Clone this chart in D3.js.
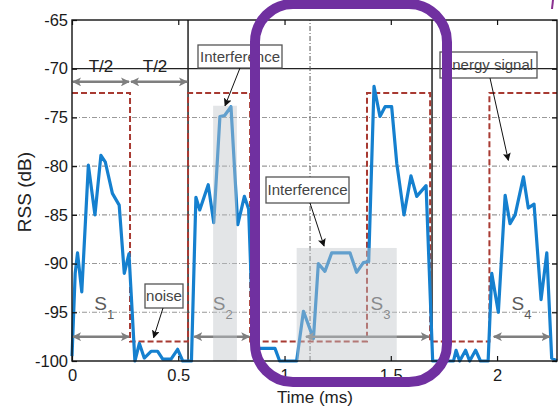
<!DOCTYPE html>
<html>
<head>
<meta charset="utf-8">
<script src="https://cdn.jsdelivr.net/npm/d3@7"></script>
<style>
  html, body { margin: 0; padding: 0; background: #fff; }
  svg { display: block; font-family: "Liberation Sans", Arial, Helvetica, sans-serif; }
</style>
</head>
<body>
<svg id="chart" width="559" height="407"></svg>
<script>
// Received signal strength trace (time in ms, RSS in dB)
const timeMs = [
  0.000, 0.015, 0.026, 0.046, 0.077, 0.108, 0.136, 0.157, 0.190, 0.222, 0.246, 0.268,
  0.296, 0.317, 0.340, 0.372, 0.403, 0.427, 0.466, 0.497, 0.521, 0.552,
  0.562, 0.583, 0.601, 0.641, 0.667, 0.696, 0.718, 0.748, 0.780, 0.811, 0.831, 0.840, 0.852,
  0.955, 0.977, 1.057, 1.089, 1.136, 1.159, 1.190, 1.222, 1.308, 1.339, 1.371, 1.396,
  1.421, 1.449, 1.473, 1.504, 1.528, 1.562, 1.595, 1.622, 1.666, 1.697,
  1.795, 1.807, 1.824, 1.852, 1.871, 1.899, 1.922, 1.958,
  1.975, 2.006, 2.038, 2.061, 2.085, 2.124, 2.147, 2.174, 2.207, 2.234, 2.257, 2.282
];
const rssDb = [
  -99.5, -91.0, -88.9, -92.9, -79.9, -85.0, -78.9, -79.6, -82.8, -84.0, -91.0, -89.0,
  -100, -98.2, -99.7, -99.0, -99.0, -99.8, -99.8, -98.8, -100, -100,
  -100, -83.2, -84.5, -81.9, -85.8, -74.9, -74.8, -73.9, -86.0, -83.1, -84.4, -90.0, -98.7,
  -98.7, -100, -100, -94.9, -97.7, -90.0, -90.8, -88.9, -88.9, -90.9, -89.9, -89.8,
  -71.8, -74.9, -73.9, -73.9, -79.7, -85.0, -81.0, -83.1, -82.0, -100,
  -100, -98.9, -100, -98.9, -100, -98.9, -100, -100,
  -91.0, -95.0, -83.0, -85.9, -85.0, -81.1, -84.3, -83.9, -93.7, -88.9, -99.7, -100
];

// On/off energy window (square wave): edges in ms and level of each interval
const windowEdges = [0, 0.273, 0.546, 0.838, 1.388, 1.685, 1.964, 2.282];
const windowLevels = [-72.5, -98, -72.5, -98, -72.5, -98, -72.5];

// Slot boundaries
const slotBoundaries = [0.546, 1.694];
const slotMarker = [1.12];

// Interference spans
const interfStart = [0.664, 1.057];
const interfEnd = [0.776, 1.528];
const interfTop = [-73.8, -88.4];

// Sensing spans S1..S4
const senseNames = ["1", "2", "3", "4"];
const senseStart = [0, 0.570, 1.096, 1.980];
const senseEnd = [0.273, 0.839, 1.684, 2.252];

// Half-period spans
const halfStart = [0, 0.273];
const halfEnd = [0.273, 0.546];

// Axis ticks
const xTicks = [0, 0.5, 1, 1.5, 2];
const yTicks = [-100, -95, -90, -85, -80, -75, -70, -65];
const gridDb = [-95, -90, -85, -80, -75];

const svg = d3.select("#chart");
const x = d3.scaleLinear().domain([0, 2.282]).range([72, 557]);
const y = d3.scaleLinear().domain([-100, -65]).range([361, 20]);

const defs = svg.append("defs");
defs.append("marker").attr("id", "grayHead")
  .attr("viewBox", "0 0 10 10").attr("refX", 9).attr("refY", 5)
  .attr("markerWidth", 9).attr("markerHeight", 9)
  .attr("markerUnits", "userSpaceOnUse").attr("orient", "auto-start-reverse")
  .append("path").attr("d", "M0,0 L10,5 L0,10 L2.5,5 z").attr("fill", "#7f7f7f");
defs.append("marker").attr("id", "blackHead")
  .attr("viewBox", "0 0 10 10").attr("refX", 9).attr("refY", 5)
  .attr("markerWidth", 8).attr("markerHeight", 8)
  .attr("markerUnits", "userSpaceOnUse").attr("orient", "auto")
  .append("path").attr("d", "M0,0 L10,5 L0,10 L2,5 z").attr("fill", "#111");

// Grid
svg.append("g").selectAll("line").data(gridDb).join("line")
  .attr("x1", x(0)).attr("x2", x(2.282))
  .attr("y1", d => y(d)).attr("y2", d => y(d))
  .attr("stroke", "#999").attr("stroke-width", 1.1)
  .attr("stroke-dasharray", "5,2,1,2");

// -70 dB reference line
svg.append("line")
  .attr("x1", x(0)).attr("x2", x(2.282)).attr("y1", y(-70)).attr("y2", y(-70))
  .attr("stroke", "#222").attr("stroke-width", 1.3);

// Slot boundaries
svg.append("g").selectAll("line").data(slotBoundaries).join("line")
  .attr("x1", d => x(d)).attr("x2", d => x(d)).attr("y1", y(-100)).attr("y2", y(-65))
  .attr("stroke", "#222").attr("stroke-width", 1.5);
svg.append("g").selectAll("line").data(slotMarker).join("line")
  .attr("x1", d => x(d)).attr("x2", d => x(d)).attr("y1", y(-100)).attr("y2", y(-65))
  .attr("stroke", "#555").attr("stroke-width", 1).attr("stroke-dasharray", "5,2,1,2");

// Energy window
const windowPts = windowLevels.map((v, i) => [windowEdges[i], v]);
windowPts.push([windowEdges[windowEdges.length - 1], windowLevels[windowLevels.length - 1]]);
svg.append("path")
  .attr("d", d3.line().x(d => x(d[0])).y(d => y(d[1])).curve(d3.curveStepAfter)(windowPts))
  .attr("fill", "none").attr("stroke", "#a83a32").attr("stroke-width", 2)
  .attr("stroke-dasharray", "6,3");

// RSS trace
const trace = timeMs.map((t, i) => [t, rssDb[i]]);
svg.append("path")
  .attr("d", d3.line().x(d => x(d[0])).y(d => y(d[1]))(trace))
  .attr("fill", "none").attr("stroke", "#1580cf").attr("stroke-width", 3.2)
  .attr("stroke-linejoin", "round");

// Half period arrows
const halfY = -71.35;
svg.append("g").selectAll("line").data(halfStart).join("line")
  .attr("x1", d => x(d) + 1).attr("x2", (d, i) => x(halfEnd[i]) - 1)
  .attr("y1", y(halfY)).attr("y2", y(halfY))
  .attr("stroke", "#7f7f7f").attr("stroke-width", 2.5)
  .attr("marker-start", "url(#grayHead)").attr("marker-end", "url(#grayHead)");
svg.append("g").selectAll("text").data(halfStart).join("text")
  .attr("x", (d, i) => x((d + halfEnd[i]) / 2) + (i === 0 ? 0 : -4)).attr("y", y(-70.3))
  .attr("text-anchor", "middle").attr("font-size", 17).attr("fill", "#222")
  .text("T/2");

// Sensing span arrows and labels
const senseY = -97.5;
svg.append("g").selectAll("line").data(senseStart).join("line")
  .attr("x1", d => x(d) + 1).attr("x2", (d, i) => x(senseEnd[i]) - 1)
  .attr("y1", y(senseY)).attr("y2", y(senseY))
  .attr("stroke", "#7f7f7f").attr("stroke-width", 2.5)
  .attr("marker-start", "url(#grayHead)").attr("marker-end", "url(#grayHead)");
const senseLabelX = [0.105, 0.662, 1.405, 2.068];
const sl = svg.append("g").selectAll("text").data(senseNames).join("text")
  .attr("x", (d, i) => x(senseLabelX[i])).attr("y", y(-94.8))
  .attr("font-size", 19).attr("fill", "#5a5a5a");
sl.append("tspan").text("S");
sl.append("tspan").attr("dy", 9).attr("font-size", 13).text(d => d);

// Interference shading
svg.append("g").selectAll("rect").data(interfStart).join("rect")
  .attr("x", d => x(d)).attr("width", (d, i) => x(interfEnd[i]) - x(d))
  .attr("y", (d, i) => y(interfTop[i])).attr("height", (d, i) => y(-100) - y(interfTop[i]))
  .attr("fill", "#c2c5ca").attr("fill-opacity", 0.45);

// Frame and ticks
svg.append("rect").attr("x", x(0)).attr("y", y(-65))
  .attr("width", x(2.282) - x(0)).attr("height", y(-100) - y(-65))
  .attr("fill", "none").attr("stroke", "#111").attr("stroke-width", 1.4);

svg.append("g").attr("transform", `translate(${x(0)},0)`)
  .call(d3.axisLeft(y).tickValues(yTicks).tickSize(-5).tickPadding(4).tickFormat(d => String(d)));
svg.append("g").attr("transform", `translate(0,${y(-100)})`)
  .call(d3.axisBottom(x).tickValues(xTicks).tickSize(-5).tickPadding(8).tickFormat(d => String(d)));
svg.append("g").attr("transform", `translate(0,${y(-65)})`)
  .call(d3.axisTop(x).tickValues(xTicks).tickSize(-5).tickFormat(""));
svg.append("g").attr("transform", `translate(${x(2.282)},0)`)
  .call(d3.axisRight(y).tickValues(yTicks).tickSize(-5).tickFormat(""));
svg.selectAll(".domain").remove();
svg.selectAll(".tick line").attr("stroke", "#111").attr("stroke-width", 1.2);
svg.selectAll(".tick text").attr("font-size", 16.5).attr("fill", "#1a1a1a")
  .attr("font-family", "'Liberation Sans', Arial, sans-serif");

// Axis titles
svg.append("text").attr("x", 315).attr("y", 403).attr("text-anchor", "middle")
  .attr("font-size", 17).attr("fill", "#222").text("Time (ms)");
svg.append("text").attr("transform", "translate(31,192) rotate(-90)")
  .attr("text-anchor", "middle").attr("font-size", 19).attr("fill", "#222").text("RSS (dB)");

// Callouts
function callout(label, bx, by, bw, bh, ax1, ay1, ax2, ay2, fill) {
  svg.append("rect").attr("x", bx).attr("y", by).attr("width", bw).attr("height", bh)
    .attr("fill", fill).attr("stroke", "#555").attr("stroke-width", 1.3);
  svg.append("text").attr("x", bx + bw / 2).attr("y", by + bh / 2 + 5)
    .attr("text-anchor", "middle").attr("font-size", 15).attr("fill", "#444")
    .text(label);
  svg.append("line").attr("x1", ax1).attr("y1", ay1).attr("x2", ax2).attr("y2", ay2)
    .attr("stroke", "#111").attr("stroke-width", 1).attr("marker-end", "url(#blackHead)");
}
callout("Interference", 198, 45, 84, 23, 240, 68, x(0.720), y(-73.8), "#fff");
callout("Interference", 266, 177, 83, 26, 310, 203, x(1.186), y(-88.2), "#fff");
callout("noise", 145, 284, 38, 24, 163, 308, x(0.384), y(-97.6), "#fff");
callout("energy signal", 440, 52, 97, 26, 490, 78, x(2.053), y(-79.4), "none");

// Highlight outline
svg.append("rect").attr("x", 255).attr("y", 4).attr("width", 192).attr("height", 378)
  .attr("rx", 38).attr("ry", 38)
  .attr("fill", "none").attr("stroke", "#7030a0").attr("stroke-width", 10);
svg.append("line").attr("x1", 553).attr("y1", 0).attr("x2", 552).attr("y2", 9)
  .attr("stroke", "#8a3090").attr("stroke-width", 2);
</script>
</body>
</html>
